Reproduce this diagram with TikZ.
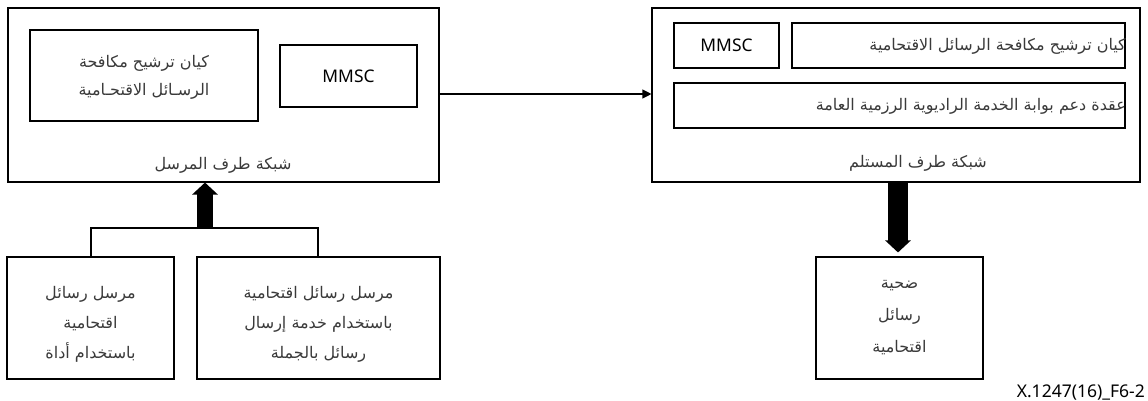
\documentclass[tikz,border=0pt]{standalone}
\usepackage{fontspec}
\setmainfont{Noto Sans}
\newfontfamily\arabicfont[Script=Arabic]{DejaVu Sans}
\TeXXeTstate=1
\usetikzlibrary{arrows.meta}
\definecolor{txtgray}{HTML}{3A3A3A}
\newcommand{\ar}[1]{{\arabicfont\beginR #1\endR}}
\begin{document}
\begin{tikzpicture}[x=1pt,y=-1pt,
  box/.style={draw, line width=1.1pt, rectangle, inner sep=0pt},
  atext/.style={font=\fontsize{16}{28}\selectfont, text=txtgray, align=center, inner sep=0pt},
  atextw/.style={atext, font=\fontsize{16}{30}\selectfont},
  ltext/.style={font=\fontsize{17.4}{20}\selectfont, inner sep=0pt},
  conn/.style={line width=1.1pt},
  block/.style={line width=16pt, -{Triangle[length=12pt,width=25pt]}}]
\useasboundingbox (0,0) rectangle (1148,401);
% left (sender) side
\node[box, minimum width=431pt, minimum height=174pt] (lnet) at (223.5,95) {};
\node[box, minimum width=228pt, minimum height=91pt] (lspam) at (144,75.5) {};
\node[atext] (lspamt) at (144,77) {\ar{كيان ترشيح مكافحة}\\\ar{الرسـائل الاقتحـامية}};
\node[box, minimum width=137pt, minimum height=62pt] (lmmsc) at (348.5,76) {};
\node[ltext] (lmmsct) at (348.5,76) {MMSC};
\node[atext] (lnett) at (223,165) {\ar{شبكة طرف المرسل}};
% right (receiver) side
\node[box, minimum width=488pt, minimum height=174pt] (rnet) at (896,95) {};
\node[box, minimum width=105pt, minimum height=45pt] (rmmsc) at (726.5,45.5) {};
\node[ltext] (rmmsct) at (726.5,45.5) {MMSC};
\node[box, minimum width=333pt, minimum height=45pt] (rspam) at (958.5,45.5) {};
\node[atext, anchor=east] (rspamt) at (1126,46.5) {\ar{كيان ترشيح مكافحة الرسائل الاقتحامية}};
\node[box, minimum width=451pt, minimum height=45pt] (gw) at (899.5,105.5) {};
\node[atext, anchor=east] (gwt) at (1126,106.5) {\ar{عقدة دعم بوابة الخدمة الراديوية الرزمية العامة}};
\node[atext] (rnett) at (918,163) {\ar{شبكة طرف المستلم}};
% connector between networks
\draw[conn, -{Triangle[length=9pt,width=9pt]}] (lnet.east |- 0,94) -- (rnet.west |- 0,94);
% spammers
\node[box, minimum width=167pt, minimum height=122pt] (s1) at (90.5,318) {};
\node[atextw] (s1t) at (90.5,324) {\ar{مرسل رسائل}\\\ar{اقتحامية}\\\ar{باستخدام أداة}};
\node[box, minimum width=243pt, minimum height=122pt] (s2) at (318.5,318) {};
\node[atextw] (s2t) at (318.5,324) {\ar{مرسل رسائل اقتحامية}\\\ar{باستخدام خدمة إرسال}\\\ar{رسائل بالجملة}};
\coordinate (join) at (205,228);
\draw[conn] (s1.north -| 91,0) |- (join) -| (s2.north -| 318,0);
\draw[block] (join) -- (lnet.south -| join);
% victim
\node[box, minimum width=167pt, minimum height=122pt] (vic) at (899.5,318) {};
\node[atextw, font=\fontsize{16}{32}\selectfont] (vict) at (899.5,318) {\ar{ضحية}\\\ar{رسائل}\\\ar{اقتحامية}};
\draw[block, line width=20pt, shorten >=4pt] (rnet.south -| 898,0) -- (vic.north -| 898,0);
% label
\node[font=\fontsize{17.5}{20}\selectfont, anchor=east, inner sep=0pt] (lbl) at (1145,393) {X.1247(16)\_F6-2};
\end{tikzpicture}
\end{document}
